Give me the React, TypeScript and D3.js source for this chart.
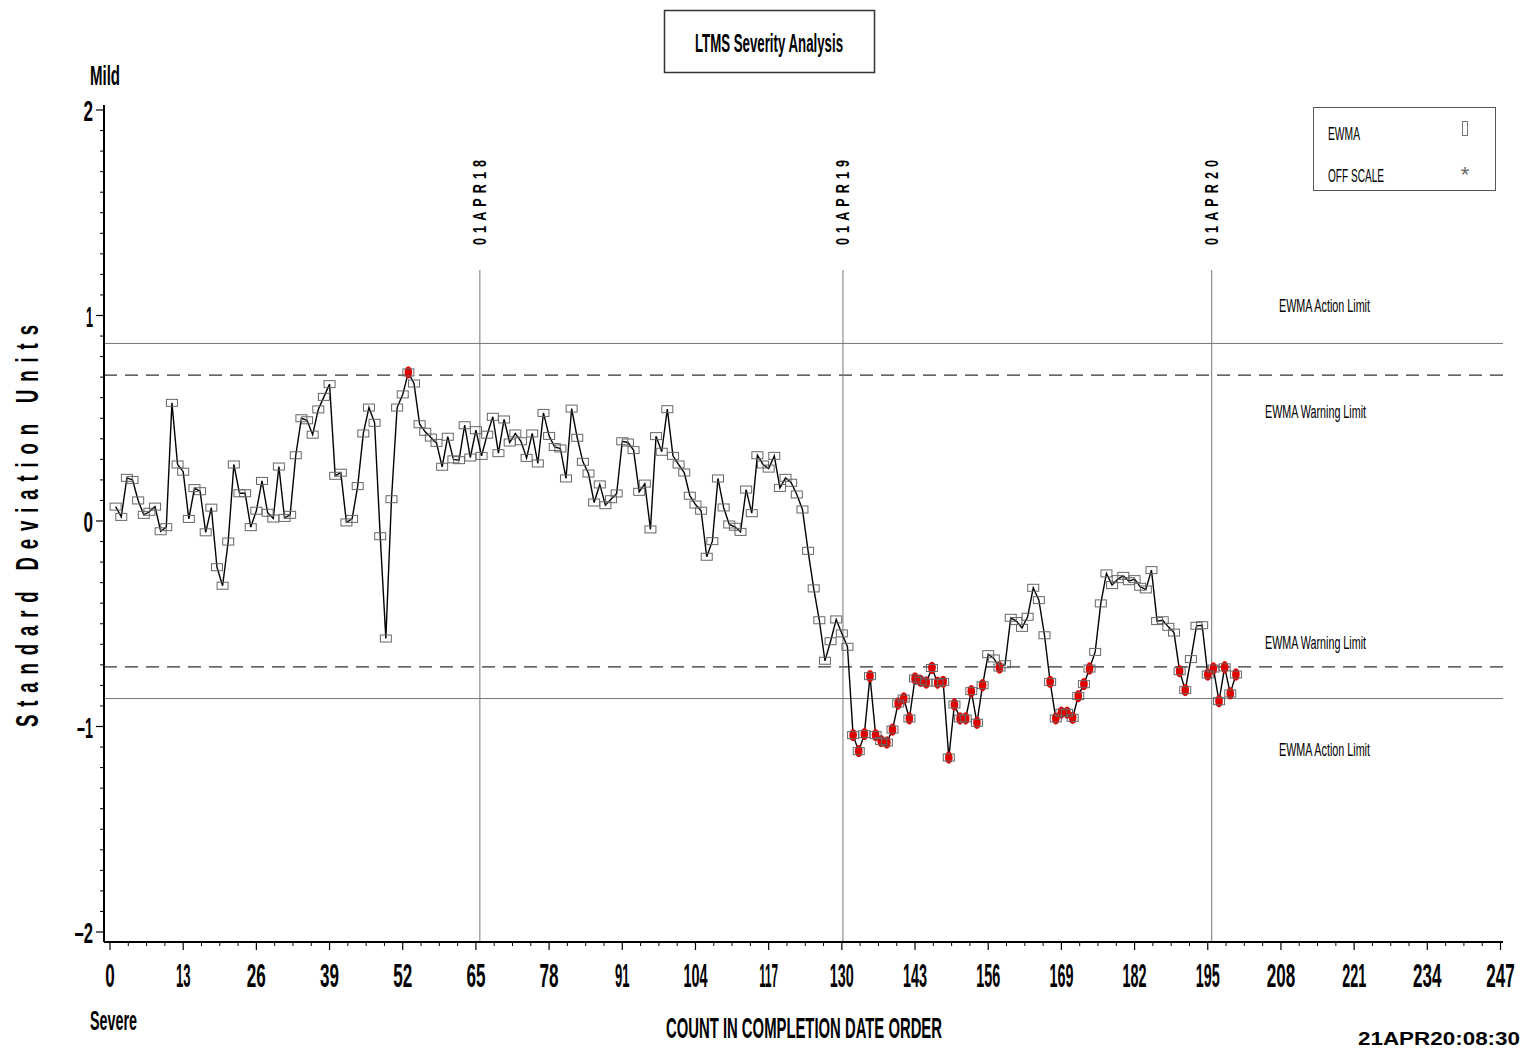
import React from 'react';
import * as d3 from 'd3';

// EWMA values, counts 1..200
const ewma: number[] = [
  0.07, 0.02, 0.21, 0.2, 0.1, 0.03, 0.045, 0.07, -0.05, -0.03,
  0.575, 0.275, 0.24, 0.01, 0.16, 0.145, -0.055, 0.065, -0.225, -0.315,
  -0.1, 0.275, 0.135, 0.135, -0.03, 0.05, 0.195, 0.04, 0.012, 0.265,
  0.015, 0.03, 0.32, 0.5, 0.49, 0.42, 0.543, 0.604, 0.666, 0.22,
  0.235, -0.007, 0.01, 0.17, 0.426, 0.552, 0.478, -0.074, -0.572, 0.106,
  0.552, 0.616, 0.723, 0.669, 0.471, 0.434, 0.406, 0.38, 0.264, 0.41,
  0.3, 0.296, 0.466, 0.309, 0.442, 0.317, 0.42, 0.507, 0.33, 0.494,
  0.382, 0.426, 0.388, 0.307, 0.426, 0.28, 0.526, 0.414, 0.36, 0.353,
  0.207, 0.547, 0.405, 0.288, 0.231, 0.09, 0.178, 0.077, 0.106, 0.134,
  0.388, 0.382, 0.345, 0.142, 0.182, -0.041, 0.413, 0.337, 0.544, 0.317,
  0.275, 0.236, 0.123, 0.08, 0.05, -0.174, -0.098, 0.207, 0.066, -0.017,
  -0.028, -0.053, 0.153, 0.038, 0.32, 0.275, 0.255, 0.317, 0.161, 0.21,
  0.186, 0.129, 0.056, -0.145, -0.328, -0.483, -0.68, -0.585, -0.479, -0.547,
  -0.612, -1.042, -1.12, -1.037, -0.755, -1.042, -1.071, -1.078, -1.015, -0.888,
  -0.864, -0.961, -0.766, -0.778, -0.786, -0.715, -0.787, -0.783, -1.151, -0.893,
  -0.961, -0.961, -0.828, -0.982, -0.799, -0.648, -0.669, -0.713, -0.697, -0.471,
  -0.487, -0.52, -0.466, -0.325, -0.385, -0.556, -0.783, -0.961, -0.933, -0.933,
  -0.958, -0.852, -0.794, -0.718, -0.637, -0.401, -0.255, -0.312, -0.283, -0.267,
  -0.293, -0.283, -0.32, -0.333, -0.239, -0.487, -0.483, -0.515, -0.543, -0.731,
  -0.823, -0.672, -0.51, -0.507, -0.747, -0.718, -0.877, -0.712, -0.839, -0.747,
];

const xMajorTicks = [0, 13, 26, 39, 52, 65, 78, 91, 104, 117, 130, 143, 156, 169, 182, 195, 208, 221, 234, 247];
const yMajorTicks = [-2, -1, 0, 1, 2];
const yTickLabels = ['–2', '–1', '0', '1', '2'];
const dateLinePositions = [65.7, 130.2, 195.7];
const dateLineLabels = ['01APR18', '01APR19', '01APR20'];
const actionLimit = 0.864;
const warningLimit = 0.71;

const FONT = '"Liberation Sans", Arial, Helvetica, sans-serif';

function digitWidth(s: string, one: number, other: number) {
  let w = 0;
  for (const c of s) w += c === '1' ? one : c === '–' ? 9 : other;
  return w;
}

export default function App() {
  const x = d3.scaleLinear().domain([0, 247]).range([110, 1500.5]);
  const y = d3.scaleLinear().domain([-2, 2]).range([932, 110]);
  const axisLeft = 104;
  const axisRight = 1503;
  const axisBottom = 942;
  const axisTop = 105;

  const pts = ewma.map((v, i) => ({ n: i + 1, v }));
  const line = d3
    .line<{ n: number; v: number }>()
    .x((d) => x(d.n))
    .y((d) => y(d.v));

  const xMinor = d3.range(0, 247.01, 3.25).filter((t) => Math.abs(t / 13 - Math.round(t / 13)) > 1e-6);
  const yMinor = d3.range(-2, 2.001, 0.1).filter((t) => Math.abs(t - Math.round(t)) > 1e-6);

  const limitLabels = [
    { text: 'EWMA Action Limit', x0: 1279, base: 312, w: 91 },
    { text: 'EWMA Warning Limit', x0: 1265, base: 418, w: 101 },
    { text: 'EWMA Warning Limit', x0: 1265, base: 649, w: 101 },
    { text: 'EWMA Action Limit', x0: 1279, base: 756, w: 91 },
  ];

  const xFs = 34;
  const yFs = 30;

  return (
    <svg
      width={1526}
      height={1048}
      style={{ position: 'absolute', left: 0, top: 0, background: '#fff' }}
      fontFamily={FONT}
    >
      <rect x={0} y={0} width={1526} height={1048} fill="#fff" />

      {/* Title */}
      <rect x={664.5} y={10.5} width={210} height={62} fill="none" stroke="#333" strokeWidth={1.5} />
      <text x={695} y={52} fontSize={26} fontWeight={600} textLength={148} lengthAdjust="spacingAndGlyphs" fill="#000">
        LTMS Severity Analysis
      </text>

      {/* Legend */}
      <rect x={1313.5} y={107.5} width={182} height={83} fill="none" stroke="#555" strokeWidth={1} />
      <text x={1328} y={140} fontSize={18} textLength={32} lengthAdjust="spacingAndGlyphs">EWMA</text>
      <rect x={1462.5} y={121.5} width={5} height={14} fill="none" stroke="#777" strokeWidth={1} />
      <text x={1328} y={182} fontSize={18} textLength={56} lengthAdjust="spacingAndGlyphs">OFF SCALE</text>
      <text x={1465} y={182} fontSize={22} textAnchor="middle" fill="#666">*</text>

      {/* Limit lines */}
      {[actionLimit, -actionLimit].map((v, i) => (
        <line key={'a' + i} x1={axisLeft} x2={axisRight} y1={y(v)} y2={y(v)} stroke="#777" strokeWidth={1} />
      ))}
      {[warningLimit, -warningLimit].map((v, i) => (
        <line key={'w' + i} x1={axisLeft} x2={axisRight} y1={y(v)} y2={y(v)} stroke="#333" strokeWidth={1.3} strokeDasharray="13,8" />
      ))}
      {limitLabels.map((l, i) => (
        <text key={'ll' + i} x={l.x0} y={l.base} fontSize={19} textLength={l.w} lengthAdjust="spacingAndGlyphs">
          {l.text}
        </text>
      ))}

      {/* Date reference lines */}
      {dateLinePositions.map((d, i) => (
        <g key={'d' + i}>
          <line x1={x(d)} x2={x(d)} y1={270} y2={axisBottom} stroke="#777" strokeWidth={1} />
          <text
            transform={`translate(${x(d) + 6},245) rotate(-90) scale(0.7,1)`}
            fontSize={18}
            fontWeight="bold"
            textLength={85 / 0.7}
            lengthAdjust="spacing"
          >
            {dateLineLabels[i]}
          </text>
        </g>
      ))}

      {/* Axes */}
      <line x1={axisLeft} x2={axisLeft} y1={axisTop} y2={axisBottom} stroke="#000" strokeWidth={2} />
      <line x1={axisLeft} x2={axisRight} y1={axisBottom} y2={axisBottom} stroke="#000" strokeWidth={2} />
      {yMajorTicks.map((t, i) => {
        const lab = yTickLabels[i];
        const natural = lab.length * 0.556 * yFs;
        const sx = digitWidth(lab, 7, 9.5) / natural;
        return (
          <g key={'yt' + i}>
            <line x1={axisLeft - 8} x2={axisLeft} y1={y(t)} y2={y(t)} stroke="#000" strokeWidth={1.2} />
            <text
              transform={`translate(93,${y(t) + 11}) scale(${sx},1)`}
              fontSize={yFs}
              fontWeight="bold"
              textAnchor="end"
            >
              {lab}
            </text>
          </g>
        );
      })}
      {yMinor.map((t, i) => (
        <line key={'ym' + i} x1={axisLeft - 4} x2={axisLeft} y1={y(t)} y2={y(t)} stroke="#000" strokeWidth={1} />
      ))}
      {xMajorTicks.map((t, i) => {
        const lab = String(t);
        const natural = lab.length * 0.556 * xFs;
        const sx = digitWidth(lab, 5, 9.5) / natural;
        return (
          <g key={'xt' + i}>
            <line x1={x(t)} x2={x(t)} y1={axisBottom} y2={axisBottom + 8} stroke="#000" strokeWidth={1.2} />
            <text
              transform={`translate(${x(t)},987) scale(${sx},1)`}
              fontSize={xFs}
              fontWeight="bold"
              textAnchor="middle"
            >
              {lab}
            </text>
          </g>
        );
      })}
      {xMinor.map((t, i) => (
        <line key={'xm' + i} x1={x(t)} x2={x(t)} y1={axisBottom} y2={axisBottom + 4} stroke="#000" strokeWidth={1} />
      ))}

      {/* Axis texts */}
      <text x={90} y={85} fontSize={27} fontWeight="bold" textLength={30} lengthAdjust="spacingAndGlyphs">Mild</text>
      <text x={90} y={1030} fontSize={27} fontWeight="bold" textLength={47} lengthAdjust="spacingAndGlyphs">Severe</text>
      <text x={666} y={1038} fontSize={30} fontWeight={600} textLength={276} lengthAdjust="spacingAndGlyphs">
        COUNT IN COMPLETION DATE ORDER
      </text>
      <text x={1358} y={1045} fontSize={18} fontWeight="bold" textLength={162} lengthAdjust="spacingAndGlyphs">
        21APR20:08:30
      </text>
      <text
        transform={`translate(38,526) rotate(-90) scale(0.58,1)`}
        fontSize={32}
        fontWeight="bold"
        textAnchor="middle"
        textLength={402 / 0.58}
        lengthAdjust="spacing"
      >
        Standard Deviation Units
      </text>

      {/* Data */}
      <path d={line(pts) || ''} fill="none" stroke="#000" strokeWidth={1.4} />
      {pts
        .filter((p) => p.v > warningLimit || p.v < -warningLimit)
        .map((p) => (
          <ellipse key={'r' + p.n} cx={x(p.n)} cy={y(p.v)} rx={3.8} ry={6.2} fill="#e00000" />
        ))}
      {pts.map((p) => (
        <rect
          key={'m' + p.n}
          x={x(p.n) - 5.5}
          y={y(p.v) - 3.5}
          width={11}
          height={7}
          fill="none"
          stroke="#666"
          strokeWidth={1}
        />
      ))}
    </svg>
  );
}
